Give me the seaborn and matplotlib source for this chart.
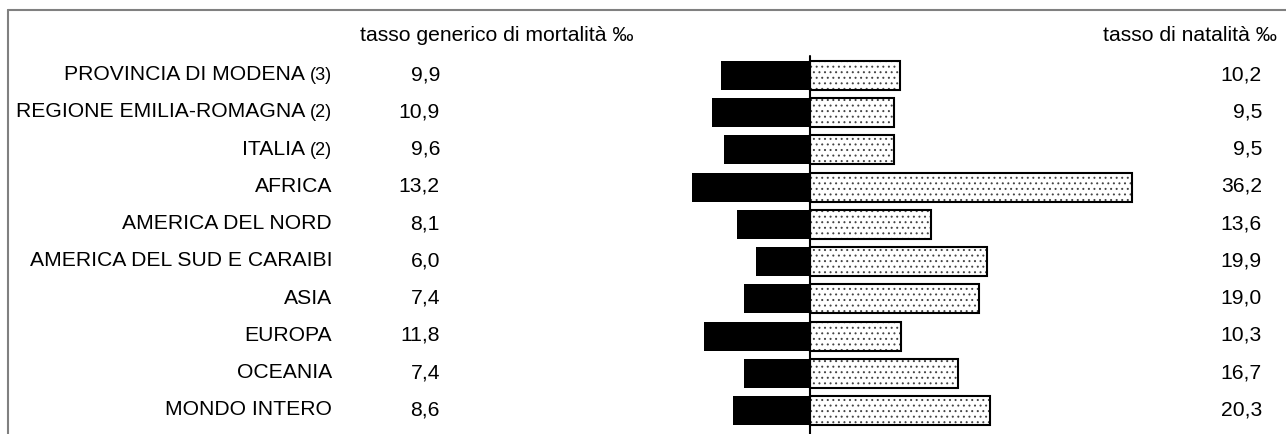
import numpy as np
import matplotlib
matplotlib.use("Agg")
import matplotlib.pyplot as plt
from matplotlib.lines import Line2D
import seaborn as sns

# dati: tassi per mille
aree = ["PROVINCIA DI MODENA", "REGIONE EMILIA-ROMAGNA", "ITALIA", "AFRICA",
        "AMERICA DEL NORD", "AMERICA DEL SUD E CARAIBI", "ASIA", "EUROPA",
        "OCEANIA", "MONDO INTERO"]
note = ["(3)", "(2)", "(2)", "", "", "", "", "", "", ""]
mortalita = [9.9, 10.9, 9.6, 13.2, 8.1, 6.0, 7.4, 11.8, 7.4, 8.6]
natalita = [10.2, 9.5, 9.5, 36.2, 13.6, 19.9, 19.0, 10.3, 16.7, 20.3]

titolo_mort = "tasso generico di mortalità ‰"
titolo_nat = "tasso di natalità ‰"


def fmt(v):
    return f"{v:.1f}".replace(".", ",")


sns.set_style("white")
plt.rcParams["font.family"] = ["Liberation Sans", "DejaVu Sans"]
plt.rcParams["text.color"] = "black"
plt.rcParams["hatch.linewidth"] = 0.7

fig = plt.figure(figsize=(12.86, 4.35), dpi=100)
ax = fig.add_axes([0, 0, 1, 1])

bar_w = 0.78
sns.barplot(x=-np.array(mortalita), y=aree, orient="h", color="black",
            width=bar_w, saturation=1, errorbar=None, linewidth=0, ax=ax)
sns.barplot(x=natalita, y=aree, orient="h", color="white", width=bar_w,
            saturation=1, errorbar=None, hatch="...", edgecolor="#444444",
            linewidth=0, ax=ax)
sns.barplot(x=natalita, y=aree, orient="h", color="black", fill=False,
            width=bar_w, errorbar=None, linewidth=1.5, ax=ax)

# scala: centro a 809.5 px, 8.9 px per unita'; righe ogni 37.26 px
ax.set_xlim(-809.5 / 8.9, (1286 - 809.5) / 8.9)
ax.set_ylim((435 - 76.3) / 37.26, -76.3 / 37.26)
ax.axis("off")
ax.axvline(0, ymin=0, ymax=1 - 57 / 435, color="black", lw=1.5, zorder=5)

tr = ax.get_yaxis_transform()
fs = 15.2
for i, (nome, n, m, b) in enumerate(zip(aree, note, mortalita, natalita)):
    y = i + 0.1
    if n:
        t = ax.text(0.2582, y, n, transform=tr, ha="right", va="baseline",
                    fontsize=13)
        ax.annotate(nome, xy=(0, y), xycoords=(t, tr), xytext=(-5, 0),
                    textcoords="offset pixels", ha="right", va="baseline",
                    fontsize=fs)
    else:
        ax.text(0.2582, y, nome, transform=tr, ha="right", va="baseline",
                fontsize=fs)
    ax.text(0.3421, y, fmt(m), transform=tr, ha="right", va="baseline",
            fontsize=fs)
    ax.text(0.9813, y, fmt(b), transform=tr, ha="right", va="baseline",
            fontsize=fs)

ax.text(0.2799, -0.947, titolo_mort, transform=tr, ha="left",
        va="baseline", fontsize=fs)
ax.text(0.993, -0.947, titolo_nat, transform=tr, ha="right",
        va="baseline", fontsize=fs)

# cornice grigia (solo lati superiore e sinistro visibili)
fx, fy = 8 / 1286, 1 - 11 / 435
fig.add_artist(Line2D([fx, 1], [fy, fy], color="#808080", lw=1.5))
fig.add_artist(Line2D([fx, fx], [0, fy], color="#808080", lw=1.5))

fig.savefig("out.png", dpi=100)
plt.close(fig)
